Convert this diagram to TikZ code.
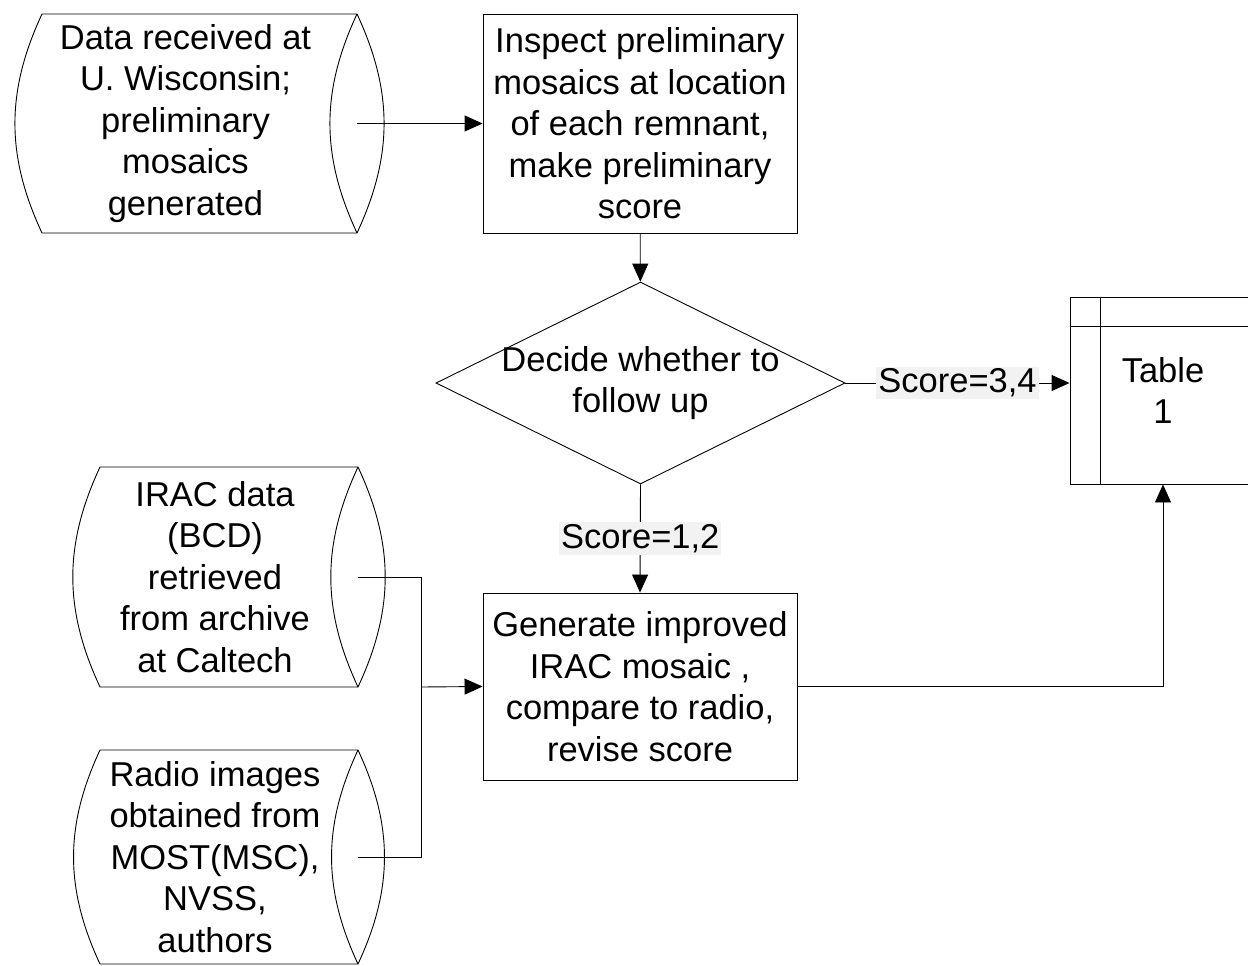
\documentclass[tikz,border=0pt]{standalone}
\usepackage{fontspec}
\setmainfont{Liberation Sans}
\usetikzlibrary{shapes.geometric,arrows.meta}

% drum outline round a storage node
\newcommand{\drawstore}[1]{%
  \draw ([xshift=14pt]#1.north west) to[bend right=25] ([xshift=14pt]#1.south west)
    -- ([xshift=14pt]#1.south east) to[bend right=25] ([xshift=14pt]#1.north east) -- cycle;
  \draw ([xshift=14pt]#1.north east) to[bend right=25] ([xshift=14pt]#1.south east);}

\begin{document}
\begin{tikzpicture}[x=1pt,y=-1pt,line width=0.9pt,
    every node/.style={font=\fontsize{34.5}{41.5}\selectfont,align=center},
    store/.style={rectangle,inner sep=0pt,outer sep=0pt},
    procbox/.style={draw,rectangle,minimum width=314pt,minimum height=219pt,inner sep=0pt},
    choice/.style={draw,diamond,aspect=2,minimum width=409pt,minimum height=202pt,inner xsep=-30pt,inner ysep=-20pt},
    cond/.style={fill=black!5,inner sep=2pt},
    arr/.style={-{Triangle[length=18pt,width=16pt]}}]
    \useasboundingbox (0,0) rectangle (1248,966);
    \node[store,minimum width=315pt,minimum height=219pt] (recv) at (185.5,123.5) {Data received at\\U. Wisconsin;\\preliminary\\mosaics\\generated};
    \node[procbox] (insp) at (640,123.5) {Inspect preliminary\\mosaics at location\\of each remnant,\\make preliminary\\score};
    \node[choice] (dec) at (640.5,383) {Decide whether to\\follow up};
    \node[draw,minimum width=186pt,minimum height=187pt] (tbl) at (1163,390.5) {Table\\1};
    \node[procbox,minimum height=187pt] (gen) at (640,686.5) {Generate improved\\IRAC mosaic ,\\compare to radio,\\revise score};
    \node[store,minimum width=258pt,minimum height=220pt] (irac) at (215,577) {IRAC data\\(BCD)\\retrieved\\from archive\\at Caltech};
    \node[store,minimum width=258pt,minimum height=214pt] (radio) at (215,857) {Radio images\\obtained from\\MOST(MSC),\\NVSS,\\authors};
    \coordinate (join) at (421,687);
    \drawstore{recv}
    \drawstore{irac}
    \drawstore{radio}
    % table header lines
    \draw ([xshift=31pt]tbl.north west) -- ([xshift=31pt]tbl.south west);
    \draw ([yshift=-30pt]tbl.north west) -- ([yshift=-30pt]tbl.north east);
    % connectors
    \draw[arr] ([xshift=14pt]recv.east) -- (insp.west);
    \draw[arr] (insp) -- (dec);
    \draw[arr] (dec.east) -- node[cond]{Score=3,4} (dec.east -| tbl.west);
    \draw[arr] (dec.south) -- node[cond]{Score=1,2} (gen.north);
    \draw[arr] (gen.east) -| (tbl.south);
    \draw ([xshift=14pt]irac.east) -| (join);
    \draw ([xshift=14pt]radio.east) -| (join);
    \draw[arr] (join) -- (gen.west);
\end{tikzpicture}
\end{document}
